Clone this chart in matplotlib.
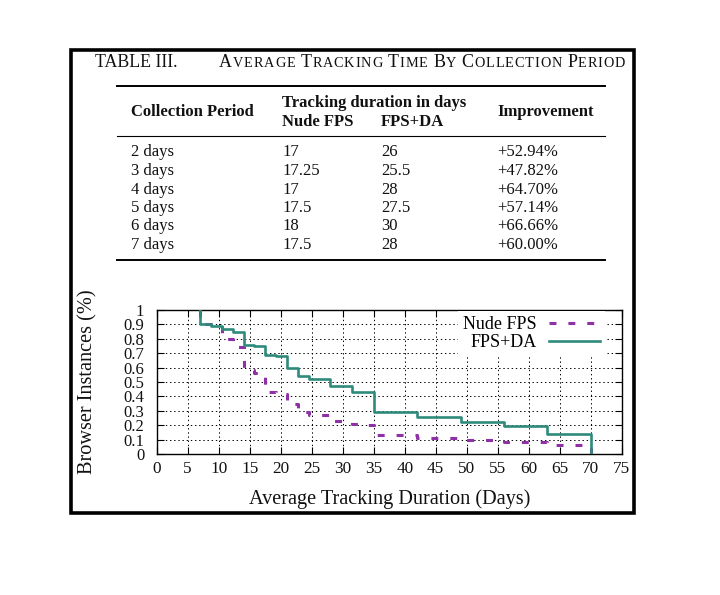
import matplotlib
matplotlib.use("Agg")
import matplotlib.pyplot as plt
from matplotlib.patches import Rectangle
from matplotlib.lines import Line2D

plt.rcParams['font.family'] = ['Liberation Serif', 'DejaVu Serif']
plt.rcParams['lines.scale_dashes'] = False

# ---------------- data ----------------
table_title_label = "TABLE III."
table_title_text = "AVERAGE TRACKING TIME BY COLLECTION PERIOD"
col_headers = ["Collection Period", "Tracking duration in days", "Nude FPS", "FPS+DA", "Improvement"]
periods = ["2 days", "3 days", "4 days", "5 days", "6 days", "7 days"]
nude_fps_avg = ["17", "17.25", "17", "17.5", "18", "17.5"]
fps_da_avg = ["26", "25.5", "28", "27.5", "30", "28"]
improvement = ["+52.94%", "+47.82%", "+64.70%", "+57.14%", "+66.66%", "+60.00%"]

nude_days = [7, 7, 8.75, 10.5, 12.25, 14, 15.75, 17.5, 19.25, 21, 22.75, 24.5, 28, 31.5, 33.25, 35, 42, 49, 56, 63, 70]
nude_frac = [1.0, 0.90, 0.88, 0.80, 0.74, 0.58, 0.56, 0.43, 0.42, 0.345, 0.295, 0.27, 0.23, 0.21, 0.20, 0.13, 0.11, 0.10, 0.08, 0.06, 0.0]

da_days = [7, 7, 8.75, 10.5, 12.25, 14, 15.75, 17.5, 19.25, 21, 22.75, 24.5, 28, 31.5, 35, 42, 49, 56, 63, 70]
da_frac = [1.0, 0.90, 0.89, 0.87, 0.85, 0.76, 0.75, 0.69, 0.68, 0.60, 0.54, 0.52, 0.47, 0.43, 0.29, 0.26, 0.225, 0.195, 0.14, 0.0]

x_ticks = list(range(0, 80, 5))
x_tick_labels = [str(v) for v in x_ticks]
y_ticks = [0, 0.1, 0.2, 0.3, 0.4, 0.5, 0.6, 0.7, 0.8, 0.9, 1.0]
y_tick_labels = ["0", "0.1", "0.2", "0.3", "0.4", "0.5", "0.6", "0.7", "0.8", "0.9", "1"]

series_labels = ["Nude FPS", "FPS+DA"]
x_label = "Average Tracking Duration (Days)"
y_label = "Browser Instances (%)"

# ---------------- figure ----------------
W, H = 720, 595
fig = plt.figure(figsize=(W / 100, H / 100), dpi=100)
fig.patch.set_facecolor('white')
TXT = '#111111'


def fx(px):
    return px / W


def fy(py):
    return 1 - py / H


# outer border
fig.add_artist(Rectangle((fx(71), fy(513)), fx(633.5) - fx(71), fy(50) - fy(513),
                         transform=fig.transFigure, fill=False, edgecolor='black', linewidth=2.6))

# table title
fig.text(fx(95), fy(66.7), table_title_label, fontsize=12.9, va='baseline', ha='left', color=TXT)

renderer = fig.canvas.get_renderer()
big, small, track = 13.0, 10.3, 0.85
x = 219.0
for i, word in enumerate(table_title_text.split(' ')):
    t = fig.text(fx(x), fy(66.7), word[0], fontsize=big, va='baseline', ha='left', color=TXT)
    x += t.get_window_extent(renderer).width + track
    for ch in word[1:]:
        t = fig.text(fx(x), fy(66.7), ch, fontsize=small, va='baseline', ha='left', color=TXT)
        x += t.get_window_extent(renderer).width + track
    x += 0.25 * big * 100 / 72

# table rules
for yy, lw in ((85.7, 1.4), (136, 0.8), (260, 1.4)):
    fig.add_artist(Line2D([fx(117), fx(605)], [fy(yy), fy(yy)], transform=fig.transFigure,
                          color='black', linewidth=lw))

TS = 12.0
fig.text(fx(131), fy(116.5), col_headers[0], fontsize=TS, fontweight='bold', va='baseline', color=TXT)
fig.text(fx(282), fy(107), col_headers[1], fontsize=TS, fontweight='bold', va='baseline', color=TXT)
fig.text(fx(282), fy(125.5), col_headers[2], fontsize=TS, fontweight='bold', va='baseline', color=TXT)
fig.text(fx(381), fy(125.5), col_headers[3], fontsize=TS, fontweight='bold', va='baseline', color=TXT)
fig.text(fx(497), fy(116.5), col_headers[4], fontsize=TS, fontweight='bold', va='baseline', color=TXT)

row_base = [156.5, 174.8, 193.8, 212.2, 230.5, 248.8]
for i in range(len(periods)):
    for xp, val in ((131, periods[i]), (282, nude_fps_avg[i]), (381, fps_da_avg[i]), (497, improvement[i])):
        fig.text(fx(xp), fy(row_base[i]), val, fontsize=TS, va='baseline', color=TXT)

# ---------------- chart ----------------
ax = fig.add_axes([fx(156.7), fy(454), fx(621.7) - fx(156.7), fy(310) - fy(454)])
purple = '#9030a8'
green = '#2e8b7b'
ax.step(nude_days, nude_frac, where='post', color=purple, linewidth=2.2,
        linestyle=(0, (5.0, 8.6)), label=series_labels[0], zorder=3)
ax.step(da_days, da_frac, where='post', color=green, linewidth=1.9,
        label=series_labels[1], zorder=4)

ax.set_xlim(0, 75)
ax.set_ylim(0, 1)
ax.set_xticks(x_ticks)
ax.set_xticklabels(x_tick_labels)
ax.set_yticks(y_ticks)
ax.set_yticklabels(y_tick_labels)
ax.tick_params(direction='in', top=True, right=True, length=5, width=0.8,
               labelsize=12.4, colors='black', labelcolor=TXT)
ax.tick_params(axis='y', pad=9, labelsize=12.0)
ax.tick_params(axis='x', pad=5)
ax.grid(True, color='black', linestyle=(0, (1, 2)), linewidth=0.7)
for sp in ax.spines.values():
    sp.set_linewidth(1.0)

ax.set_xlabel(x_label, fontsize=14.6, color=TXT)
ax.set_ylabel(y_label, fontsize=14.6, color=TXT)
ax.xaxis.set_label_coords(0.5, (454 - 499) / 144)
ax.xaxis.label.set_verticalalignment('center')
ax.yaxis.set_label_coords((88 - 156.7) / 465, 0.5)
ax.yaxis.label.set_verticalalignment('center')

leg = ax.legend(loc='upper right', bbox_to_anchor=((605.4 - 156.7) / 465, (454 - 311) / 144),
                borderaxespad=0, borderpad=0.3, fontsize=13, markerfirst=False,
                handlelength=2.83, handletextpad=0.67, labelspacing=0.05,
                frameon=True, fancybox=False)
leg.get_frame().set_facecolor('white')
leg.get_frame().set_edgecolor('none')
leg.get_frame().set_alpha(1)

fig.savefig('out.png', dpi=100, facecolor='white')
